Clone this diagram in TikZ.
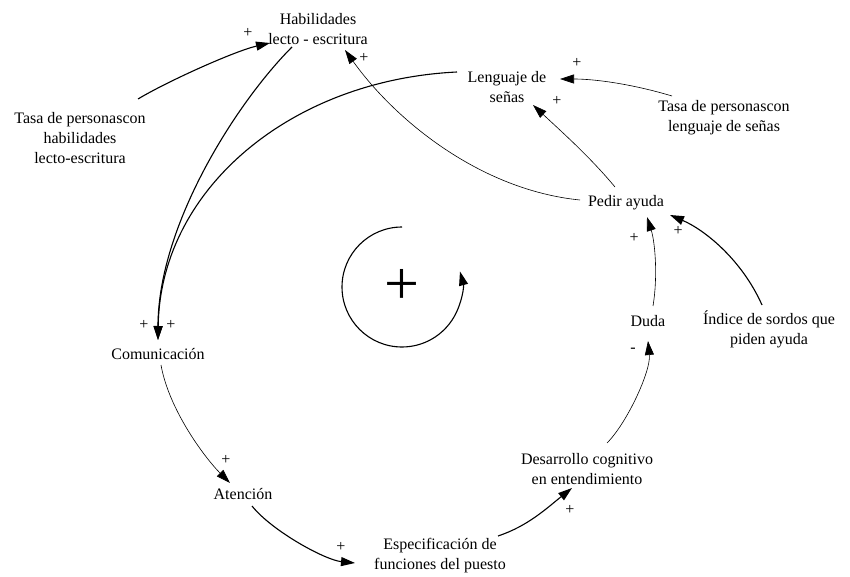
\documentclass[tikz,border=0pt]{standalone}
\usepackage{fontspec}
\newfontfamily\diagserif{Liberation Serif}
\usetikzlibrary{arrows.meta}
\begin{document}
\begin{tikzpicture}[x=1pt,y=-1pt,
  lbl/.style={font=\diagserif\fontsize{16}{20}\selectfont, align=center, inner sep=1pt},
  pol/.style={font=\diagserif\fontsize{16}{16}\selectfont, inner sep=0pt},
  boldlink/.style={line width=1.1pt, -{Triangle[length=14pt,width=9pt]}},
  finelink/.style={line width=0.6pt, -{Triangle[length=14pt,width=9pt]}},
]
\useasboundingbox (0,0) rectangle (850,577);

% variables
\node[lbl] (hab) at (318,29) {Habilidades\\lecto - escritura};
\node[lbl] (tasaH) at (80,138) {Tasa de personascon\\habilidades\\lecto-escritura};
\node[lbl] (len) at (507,87) {Lenguaje de\\señas};
\node[lbl] (tasaL) at (724,118) {Tasa de personascon\\lenguaje de señas};
\node[lbl] (ped) at (626,203) {Pedir ayuda};
\node[lbl] (ind) at (769,329) {Índice de sordos que\\piden ayuda};
\node[lbl] (duda) at (648,321) {Duda};
\node[lbl] (des) at (587,469) {Desarrollo cognitivo\\en entendimiento};
\node[lbl] (esp) at (440,556) {Especificación de\\funciones del puesto};
\node[lbl] (ate) at (243,494) {Atención};
\node[lbl] (com) at (158,354) {Comunicación};

% connectors
\draw[boldlink] ([shift={(58,-39)}]tasaH.center) .. controls +(30,-18) and +(-35,8) .. ([shift={(-48,14)}]hab.center);
\draw[boldlink] ([shift={(-26,18)}]hab.center) .. controls +(-55,55) and +(0,-115) .. ([shift={(0,-14)}]com.center);
\draw[boldlink] ([shift={(-50,-15)}]len.center) .. controls +(-167,8) and +(2,-150) .. ([shift={(0,-14)}]com.center);
\draw[finelink] ([shift={(-46,-3)}]ped.center) .. controls +(-100,-10) and +(50,70) .. ([shift={(27,21)}]hab.center);
\draw[finelink] ([shift={(-11,-16)}]ped.center) .. controls +(-25,-30) and +(30,28) .. ([shift={(26,18)}]len.center);
\draw[finelink] ([shift={(-52,-22)}]tasaL.center) .. controls +(-40,-12) and +(35,0) .. ([shift={(53,-8)}]len.center);
\draw[boldlink] ([shift={(-7,-24)}]ind.center) .. controls +(-20,-45) and +(35,15) .. ([shift={(44,12)}]ped.center);
\draw[finelink] ([shift={(5,-15)}]duda.center) .. controls +(5,-30) and +(8,25) .. ([shift={(21,14)}]ped.center);
\draw[finelink] ([shift={(20,-26)}]des.center) .. controls +(20,-20) and +(3,30) .. ([shift={(0,20)}]duda.center);
\draw[boldlink] ([shift={(58,-20)}]esp.center) .. controls +(30,-10) and +(-25,20) .. ([shift={(-15,19)}]des.center);
\draw[boldlink] ([shift={(9,12)}]ate.center) .. controls +(20,25) and +(-30,-3) .. ([shift={(-85,7)}]esp.center);
\draw[finelink] ([shift={(3,11)}]com.center) .. controls +(8,45) and +(-25,-25) .. ([shift={(-13,-11)}]ate.center);

% polarities
\node[pol] (p1) at (248,33) {+};
\node[pol] (p2) at (364,58) {+};
\node[pol] (p3) at (144,325) {+};
\node[pol] (p4) at (171,325) {+};
\node[pol] (p5) at (577,63) {+};
\node[pol] (p6) at (557,101) {+};
\node[pol] (p7) at (634,238) {+};
\node[pol] (p8) at (678,231) {+};
\node[pol] (p9) at (226,460) {+};
\node[pol] (p10) at (341,547) {+};
\node[pol] (p11) at (570,510) {+};
\node[pol] (m1) at (633,350) {-};

% loop symbol
\node[font=\diagserif\fontsize{62}{62}\selectfont, inner sep=0pt] (loopsign) at (402,287) {+};
\draw[line width=1.1pt, -{Triangle[length=14pt,width=9pt]}] (loopsign.center) ++(270:60) arc (270:-15:60);
\end{tikzpicture}
\end{document}
